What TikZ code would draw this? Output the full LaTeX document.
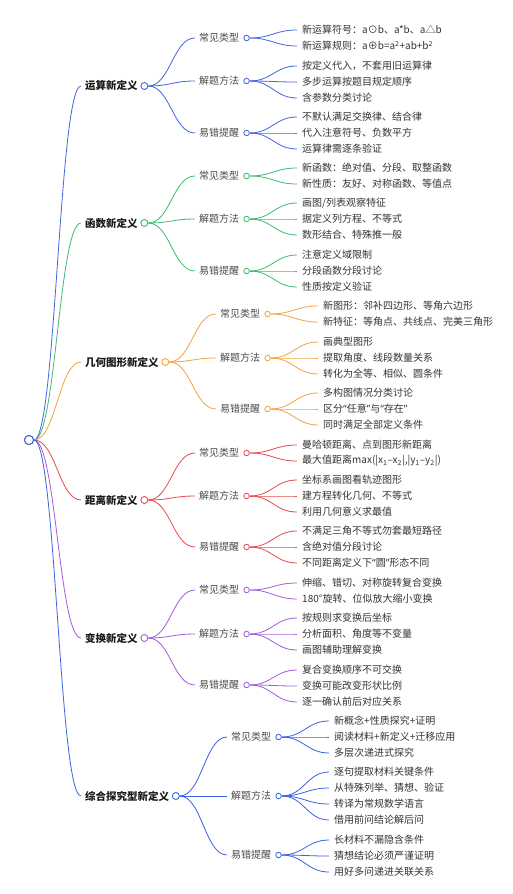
\documentclass[tikz,border=0pt]{standalone}
\usepackage{fontspec}
\setmainfont{Noto Sans CJK SC}
\newfontfamily\latinq{Noto Sans}
\usetikzlibrary{positioning}

\definecolor{ysblue}{HTML}{4066E0}
\definecolor{hsgreen}{HTML}{3DBB6E}
\definecolor{jhorange}{HTML}{F5A23A}
\definecolor{jlred}{HTML}{E8484E}
\definecolor{bhpurple}{HTML}{A45BDB}
\definecolor{zhblue}{HTML}{3A62E6}
\definecolor{txt}{HTML}{333333}

\tikzset{
  lvone/.style={anchor=west, inner xsep=4pt, text=black!90, font=\bfseries\fontsize{10.5}{12}\selectfont},
  lvtwo/.style={anchor=west, inner xsep=4pt, text=black!70, font=\fontsize{10}{12}\selectfont},
  leaf/.style={anchor=west, inner xsep=5pt, text=txt, font=\fontsize{10}{12}\selectfont},
  rootdot/.style={circle, draw=ysblue, fill=white, minimum size=9pt, inner sep=0pt, line width=1pt},
  bigdot/.style={circle, draw, fill=white, minimum size=7pt, inner sep=0pt, line width=0.9pt},
  smalldot/.style={circle, draw, fill=white, minimum size=5.5pt, inner sep=0pt, line width=0.8pt},
  branch/.style={line width=0.8pt, out=0, in=180, distance=22pt},
}

\begin{document}
\begin{tikzpicture}[x=1pt, y=-1pt]

    \fill[white] (0,0) rectangle (513,894);
    \useasboundingbox (0,0) rectangle (513,894);

    \node[rootdot] (root) at (29,440) {};

    % 运算新定义
    \begin{scope}[ysblue]
        \node[lvone] (ys) at (81,86) {运算新定义};
        \node[bigdot, right=-1.5pt of ys] (ys-o) {};
        \draw[branch] (root) to (ys);
        \node[lvtwo] (ys-a) at (195,38) {常见类型};
        \node[lvtwo] (ys-b) at (195,81) {解题方法};
        \node[lvtwo] (ys-c) at (195,133) {易错提醒};
        \foreach \s in {a,b,c} {
            \node[smalldot, right=0pt of ys-\s] (ys-\s-o) {};
            \draw[branch] (ys-o) to (ys-\s);
        }
        \foreach \y/\lbl [count=\i] in {30/{新运算符号：a⊙b、a*b、a△b}, 46/{新运算规则：a⊕b=a\textsuperscript{2}+ab+b\textsuperscript{2}}} {
            \node[leaf] (ys-a-\i) at (297,\y) {\lbl};
            \draw[branch] (ys-a-o) to (ys-a-\i);
        }
        \foreach \y/\lbl [count=\i] in {66/{按定义代入，不套用旧运算律}, 82/{多步运算按题目规定顺序}, 98/{含参数分类讨论}} {
            \node[leaf] (ys-b-\i) at (297,\y) {\lbl};
            \draw[branch] (ys-b-o) to (ys-b-\i);
        }
        \foreach \y/\lbl [count=\i] in {117/{不默认满足交换律、结合律}, 133/{代入注意符号、负数平方}, 149/{运算律需逐条验证}} {
            \node[leaf] (ys-c-\i) at (297,\y) {\lbl};
            \draw[branch] (ys-c-o) to (ys-c-\i);
        }
    \end{scope}

    % 函数新定义
    \begin{scope}[hsgreen]
        \node[lvone] (hs) at (81,223) {函数新定义};
        \node[bigdot, right=-1.5pt of hs] (hs-o) {};
        \draw[branch] (root) to (hs);
        \node[lvtwo] (hs-a) at (195,176) {常见类型};
        \node[lvtwo] (hs-b) at (195,219) {解题方法};
        \node[lvtwo] (hs-c) at (195,271) {易错提醒};
        \foreach \s in {a,b,c} {
            \node[smalldot, right=0pt of hs-\s] (hs-\s-o) {};
            \draw[branch] (hs-o) to (hs-\s);
        }
        \foreach \y/\lbl [count=\i] in {168/{新函数：绝对值、分段、取整函数}, 184/{新性质：友好、对称函数、等值点}} {
            \node[leaf] (hs-a-\i) at (297,\y) {\lbl};
            \draw[branch] (hs-a-o) to (hs-a-\i);
        }
        \foreach \y/\lbl [count=\i] in {203/{画图/列表观察特征}, 219/{据定义列方程、不等式}, 235/{数形结合、特殊推一般}} {
            \node[leaf] (hs-b-\i) at (297,\y) {\lbl};
            \draw[branch] (hs-b-o) to (hs-b-\i);
        }
        \foreach \y/\lbl [count=\i] in {255/{注意定义域限制}, 271/{分段函数分段讨论}, 287/{性质按定义验证}} {
            \node[leaf] (hs-c-\i) at (297,\y) {\lbl};
            \draw[branch] (hs-c-o) to (hs-c-\i);
        }
    \end{scope}

    % 几何图形新定义
    \begin{scope}[jhorange]
        \node[lvone] (jh) at (81,362) {几何图形新定义};
        \node[bigdot, right=-1.5pt of jh] (jh-o) {};
        \draw[branch] (root) to (jh);
        \node[lvtwo] (jh-a) at (216,314) {常见类型};
        \node[lvtwo] (jh-b) at (216,358) {解题方法};
        \node[lvtwo] (jh-c) at (216,409) {易错提醒};
        \foreach \s in {a,b,c} {
            \node[smalldot, right=0pt of jh-\s] (jh-\s-o) {};
            \draw[branch] (jh-o) to (jh-\s);
        }
        \foreach \y/\lbl [count=\i] in {306/{新图形：邻补四边形、等角六边形}, 322/{新特征：等角点、共线点、完美三角形}} {
            \node[leaf] (jh-a-\i) at (318,\y) {\lbl};
            \draw[branch] (jh-a-o) to (jh-a-\i);
        }
        \foreach \y/\lbl [count=\i] in {342/{画典型图形}, 358/{提取角度、线段数量关系}, 374/{转化为全等、相似、圆条件}} {
            \node[leaf] (jh-b-\i) at (318,\y) {\lbl};
            \draw[branch] (jh-b-o) to (jh-b-\i);
        }
        \foreach \y/\lbl [count=\i] in {393/{多构图情况分类讨论}, 409/{区分{\latinq “}任意{\latinq ”}与{\latinq “}存在{\latinq ”}}, 425/{同时满足全部定义条件}} {
            \node[leaf] (jh-c-\i) at (318,\y) {\lbl};
            \draw[branch] (jh-c-o) to (jh-c-\i);
        }
    \end{scope}

    % 距离新定义
    \begin{scope}[jlred]
        \node[lvone] (jl) at (81,500) {距离新定义};
        \node[bigdot, right=-1.5pt of jl] (jl-o) {};
        \draw[branch] (root) to (jl);
        \node[lvtwo] (jl-a) at (195,453) {常见类型};
        \node[lvtwo] (jl-b) at (195,496) {解题方法};
        \node[lvtwo] (jl-c) at (195,547) {易错提醒};
        \foreach \s in {a,b,c} {
            \node[smalldot, right=0pt of jl-\s] (jl-\s-o) {};
            \draw[branch] (jl-o) to (jl-\s);
        }
        \foreach \y/\lbl [count=\i] in {445/{曼哈顿距离、点到图形新距离}, 461/{最大值距离max(|x\textsubscript{1}–x\textsubscript{2}|,|y\textsubscript{1}–y\textsubscript{2}|)}} {
            \node[leaf] (jl-a-\i) at (297,\y) {\lbl};
            \draw[branch] (jl-a-o) to (jl-a-\i);
        }
        \foreach \y/\lbl [count=\i] in {480/{坐标系画图看轨迹图形}, 496/{建方程转化几何、不等式}, 512/{利用几何意义求最值}} {
            \node[leaf] (jl-b-\i) at (297,\y) {\lbl};
            \draw[branch] (jl-b-o) to (jl-b-\i);
        }
        \foreach \y/\lbl [count=\i] in {531/{不满足三角不等式勿套最短路径}, 547/{含绝对值分段讨论}, 563/{不同距离定义下{\latinq “}圆{\latinq ”}形态不同}} {
            \node[leaf] (jl-c-\i) at (297,\y) {\lbl};
            \draw[branch] (jl-c-o) to (jl-c-\i);
        }
    \end{scope}

    % 变换新定义
    \begin{scope}[bhpurple]
        \node[lvone] (bh) at (81,638) {变换新定义};
        \node[bigdot, right=-1.5pt of bh] (bh-o) {};
        \draw[branch] (root) to (bh);
        \node[lvtwo] (bh-a) at (195,590) {常见类型};
        \node[lvtwo] (bh-b) at (195,634) {解题方法};
        \node[lvtwo] (bh-c) at (195,685) {易错提醒};
        \foreach \s in {a,b,c} {
            \node[smalldot, right=0pt of bh-\s] (bh-\s-o) {};
            \draw[branch] (bh-o) to (bh-\s);
        }
        \foreach \y/\lbl [count=\i] in {583/{伸缩、错切、对称旋转复合变换}, 599/{180°旋转、位似放大缩小变换}} {
            \node[leaf] (bh-a-\i) at (297,\y) {\lbl};
            \draw[branch] (bh-a-o) to (bh-a-\i);
        }
        \foreach \y/\lbl [count=\i] in {618/{按规则求变换后坐标}, 634/{分析面积、角度等不变量}, 650/{画图辅助理解变换}} {
            \node[leaf] (bh-b-\i) at (297,\y) {\lbl};
            \draw[branch] (bh-b-o) to (bh-b-\i);
        }
        \foreach \y/\lbl [count=\i] in {670/{复合变换顺序不可交换}, 686/{变换可能改变形状比例}, 702/{逐一确认前后对应关系}} {
            \node[leaf] (bh-c-\i) at (297,\y) {\lbl};
            \draw[branch] (bh-c-o) to (bh-c-\i);
        }
    \end{scope}

    % 综合探究型新定义
    \begin{scope}[zhblue]
        \node[lvone] (zh) at (81,796) {综合探究型新定义};
        \node[bigdot, right=-1.5pt of zh] (zh-o) {};
        \draw[branch] (root) to (zh);
        \node[lvtwo] (zh-a) at (227,737) {常见类型};
        \node[lvtwo] (zh-b) at (227,796) {解题方法};
        \node[lvtwo] (zh-c) at (227,855) {易错提醒};
        \foreach \s in {a,b,c} {
            \node[smalldot, right=0pt of zh-\s] (zh-\s-o) {};
            \draw[branch] (zh-o) to (zh-\s);
        }
        \foreach \y/\lbl [count=\i] in {721/{新概念+性质探究+证明}, 737/{阅读材料+新定义+迁移应用}, 753/{多层次递进式探究}} {
            \node[leaf] (zh-a-\i) at (329,\y) {\lbl};
            \draw[branch] (zh-a-o) to (zh-a-\i);
        }
        \foreach \y/\lbl [count=\i] in {772/{逐句提取材料关键条件}, 788/{从特殊列举、猜想、验证}, 804/{转译为常规数学语言}, 820/{借用前问结论解后问}} {
            \node[leaf] (zh-b-\i) at (329,\y) {\lbl};
            \draw[branch] (zh-b-o) to (zh-b-\i);
        }
        \foreach \y/\lbl [count=\i] in {840/{长材料不漏隐含条件}, 856/{猜想结论必须严谨证明}, 872/{用好多问递进关联关系}} {
            \node[leaf] (zh-c-\i) at (329,\y) {\lbl};
            \draw[branch] (zh-c-o) to (zh-c-\i);
        }
    \end{scope}

    % root circle on top of the branches
    \node[rootdot] (root-o) at (root) {};

\end{tikzpicture}
\end{document}
